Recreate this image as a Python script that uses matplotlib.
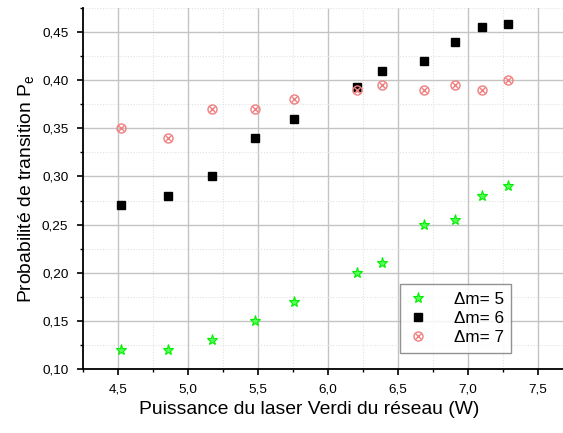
import matplotlib.pyplot as plt
from matplotlib.legend_handler import HandlerTuple
from matplotlib.ticker import FuncFormatter, MultipleLocator

puissance = [4.52, 4.86, 5.17, 5.48, 5.76, 6.21, 6.39, 6.69, 6.91, 7.10, 7.29]
proba_m5 = [0.12, 0.12, 0.13, 0.15, 0.17, 0.20, 0.21, 0.25, 0.255, 0.28, 0.29]
proba_m6 = [0.27, 0.28, 0.30, 0.34, 0.36, 0.393, 0.41, 0.42, 0.44, 0.455, 0.458]
proba_m7 = [0.35, 0.34, 0.37, 0.37, 0.38, 0.39, 0.395, 0.39, 0.395, 0.39, 0.40]

plt.rcParams["font.family"] = ["Liberation Sans", "DejaVu Sans"]
plt.rcParams["mathtext.fontset"] = "custom"
plt.rcParams["mathtext.rm"] = "Liberation Sans"

fig = plt.figure(figsize=(5.63, 4.33), dpi=100)
ax = fig.add_axes([83 / 563, 64 / 433, 1 - 83 / 563, (369 - 8) / 433])

star, = ax.plot(puissance, proba_m5, ls="none", marker="*", ms=8,
                color="#55ff55", mec="#00ee00", mew=0.8)
sq, = ax.plot(puissance, proba_m6, ls="none", marker="s", ms=6,
              color="black")
circ, = ax.plot(puissance, proba_m7, ls="none", marker="o", ms=6.5,
                mfc="none", mec="#f08080", mew=1.0)
cross, = ax.plot(puissance, proba_m7, ls="none", marker="x", ms=4,
                 color="#f08080", mew=1.0)

ax.set_xlim(4.25, 7.68)
ax.set_ylim(0.10, 0.475)

ax.xaxis.set_major_locator(MultipleLocator(0.5))
ax.xaxis.set_minor_locator(MultipleLocator(0.25))
ax.yaxis.set_major_locator(MultipleLocator(0.05))
ax.yaxis.set_minor_locator(MultipleLocator(0.025))
ax.xaxis.set_major_formatter(FuncFormatter(lambda v, p: f"{v:.1f}".replace(".", ",")))
ax.yaxis.set_major_formatter(FuncFormatter(lambda v, p: f"{v:.2f}".replace(".", ",")))

ax.grid(which="major", color="#c4c4c4", lw=1.0)
ax.grid(which="minor", color="#e2e2e2", lw=0.8, ls=(0, (1, 1.5)))
ax.set_axisbelow(True)

for side in ("top", "right"):
    ax.spines[side].set_visible(False)
for side in ("left", "bottom"):
    ax.spines[side].set_linewidth(1.3)

ax.tick_params(which="major", direction="out", length=4, width=1.2, labelsize=9.7, pad=6.5)
ax.tick_params(which="minor", direction="out", length=2.5, width=1.0)

ax.set_xlabel("Puissance du laser Verdi du réseau (W)", fontsize=13.9)
ax.set_ylabel(r"Probabilité de transition P$_{\mathregular{e}}$", fontsize=13.9)
ax.xaxis.set_label_coords((309 - 83) / 480, -0.088)
ax.yaxis.set_label_coords(-0.095, 0.5)

leg = ax.legend([star, sq, (circ, cross)], ["Δm= 5", "Δm= 6", "Δm= 7"],
                handler_map={tuple: HandlerTuple(ndivide=1)},
                loc="lower left", bbox_to_anchor=(0.66, 0.044),
                fontsize=12.3, frameon=True, fancybox=False, edgecolor="#777777",
                handlelength=1.2, handletextpad=1.5, borderpad=0.45, labelspacing=0.25,
                borderaxespad=0)
leg.get_frame().set_linewidth(1.0)

fig.savefig("out.png", dpi=100)
